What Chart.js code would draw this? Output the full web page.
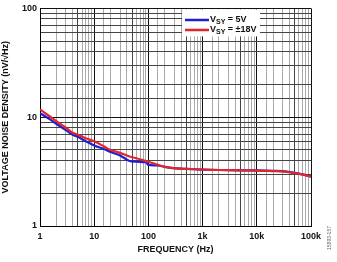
<!DOCTYPE html>
<html>
<head>
<meta charset="utf-8">
<script src="https://cdn.jsdelivr.net/npm/chart.js@4/dist/chart.umd.min.js"></script>
<style>
body{margin:0;background:#fff;}
#wrap{position:relative;width:337px;height:262px;}
</style>
</head>
<body>
<div id="wrap"><canvas id="noise" width="337" height="262"></canvas></div>
<script>
var freq = [1, 1.5, 2, 3, 4, 5, 7, 10, 15, 20, 30, 45, 60, 90, 100, 150, 200, 300, 500, 1000, 2000, 5000, 10000, 20000, 30000, 50000, 70000, 100000];
var vsy5 = [10.9, 9.6, 8.7, 7.6, 6.9, 6.6, 6.0, 5.5, 5.1, 4.8, 4.45, 3.95, 3.9, 3.85, 3.65, 3.6, 3.5, 3.4, 3.35, 3.3, 3.27, 3.25, 3.24, 3.22, 3.2, 3.08, 2.98, 2.85];
var vsy18 = [11.8, 10.2, 9.2, 8.0, 7.2, 6.9, 6.4, 6.0, 5.4, 5.0, 4.7, 4.35, 4.2, 3.95, 3.9, 3.65, 3.5, 3.4, 3.35, 3.3, 3.27, 3.25, 3.23, 3.2, 3.18, 3.06, 2.97, 2.85];
var xLabels = {1:'1', 10:'10', 100:'100', 1000:'1k', 10000:'10k', 100000:'100k'};
var yLabels = {1:'1', 10:'10', 100:'100'};

var FONT = "'Liberation Sans', Arial, sans-serif";

function isDecade(v){
    var l = Math.log10(v);
    return Math.abs(l - Math.round(l)) < 1e-6;
}

// legend with subscript, drawn over the grid
var legendBox = {
    id: 'legendBox',
    afterDatasetsDraw: function(chart){
        var c = chart.ctx;
        var x0 = 182, y0 = chart.chartArea.top + 1;
        c.save();
        c.fillStyle = '#fff';
        c.fillRect(x0, y0, 78, 27);
        var rows = [['#1f1fd0', '5V', 20], ['#e3242b', '\u00b118V', 30]];
        rows.forEach(function(r){
            c.strokeStyle = r[0];
            c.lineWidth = 2.5;
            c.beginPath();
            c.moveTo(185, r[2]);
            c.lineTo(209, r[2]);
            c.stroke();
            c.fillStyle = '#111';
            c.textBaseline = 'middle';
            c.font = 'bold 9px ' + FONT;
            c.fillText('V', 210, r[2]);
            var w = c.measureText('V').width;
            c.font = 'bold 7px ' + FONT;
            c.fillText('SY', 210 + w, r[2] + 2);
            var w2 = c.measureText('SY').width;
            c.font = 'bold 9px ' + FONT;
            c.fillText(' = ' + r[1], 210 + w + w2, r[2]);
        });
        c.restore();
    }
};

// small figure number on the right
var figNum = {
    id: 'figNum',
    afterDraw: function(chart){
        var c = chart.ctx;
        c.save();
        c.translate(330, 238);
        c.rotate(-Math.PI / 2);
        c.font = '5px ' + FONT;
        c.fillStyle = '#666';
        c.textAlign = 'center';
        c.textBaseline = 'middle';
        c.fillText('15893-157', 0, 0);
        c.restore();
    }
};

var ctx = document.getElementById('noise');
var chart = new Chart(ctx, {
    type: 'line',
    data: {
        datasets: [
            {label: 'VSY = \u00b118V', data: freq.map(function(f, i){ return {x: f, y: vsy18[i]}; }),
             borderColor: '#e3242b', borderWidth: 2.2, pointRadius: 0, tension: 0.3, fill: false},
            {label: 'VSY = 5V', data: freq.map(function(f, i){ return {x: f, y: vsy5[i]}; }),
             borderColor: '#1f1fd0', borderWidth: 2.2, pointRadius: 0, tension: 0.3, fill: false}
        ]
    },
    options: {
        responsive: false,
        animation: false,
        devicePixelRatio: 1,
        layout: {padding: {left: 0, right: 26, top: 7, bottom: 7}},
        plugins: {legend: {display: false}, tooltip: {enabled: false}},
        scales: {
            x: {
                type: 'logarithmic', min: 1, max: 100000,
                afterFit: function(s){ s.height = 29; },
                border: {color: '#000', width: 1},
                grid: {
                    drawTicks: false,
                    color: function(c){
                        var v = c.tick && c.tick.value;
                        if (isDecade(v)) return '#111';
                        var m = Math.round(v / Math.pow(10, Math.floor(Math.log10(v) + 1e-9)));
                        return m === 5 ? '#444' : '#aaa';
                    },
                    lineWidth: 1
                },
                ticks: {
                    autoSkip: false, maxRotation: 0, padding: 5,
                    color: '#111', font: {family: FONT, size: 9, weight: 'bold'},
                    callback: function(v){ return xLabels[v] !== undefined ? xLabels[v] : ''; }
                },
                title: {display: true, text: 'FREQUENCY (Hz)', color: '#111', padding: {top: 1, bottom: 0},
                        font: {family: FONT, size: 9, weight: 'bold'}}
            },
            y: {
                type: 'logarithmic', min: 1, max: 100,
                afterFit: function(s){ s.width = 40; },
                border: {color: '#000', width: 1},
                grid: {
                    drawTicks: false,
                    color: function(c){
                        var v = c.tick && c.tick.value;
                        return isDecade(v) ? '#111' : '#444';
                    },
                    lineWidth: 1
                },
                ticks: {
                    autoSkip: false, padding: 3,
                    color: '#111', font: {family: FONT, size: 9, weight: 'bold'},
                    callback: function(v){ return yLabels[v] !== undefined ? yLabels[v] : ''; }
                },
                title: {display: true, text: 'VOLTAGE NOISE DENSITY (nV/\u221aHz)', color: '#111', padding: {top: 0, bottom: 6},
                        font: {family: FONT, size: 9, weight: 'bold'}}
            }
        }
    },
    plugins: [legendBox, figNum]
});
</script>
</body>
</html>
